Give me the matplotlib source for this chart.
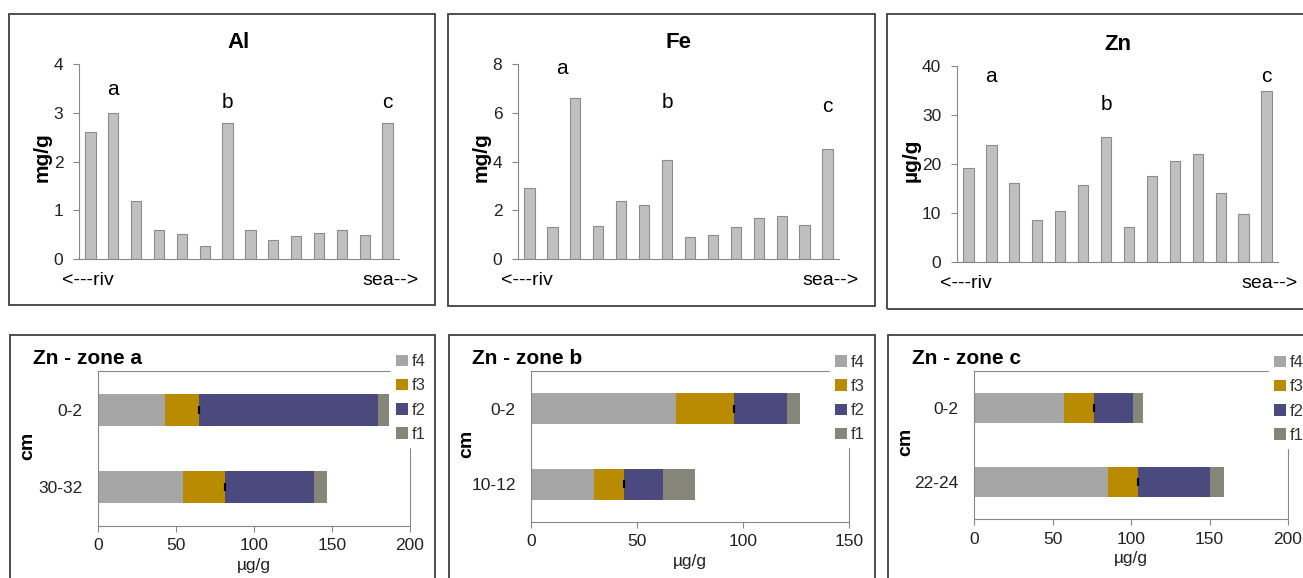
# Sediment metals along the river-sea transect and Zn fractions per zone

import matplotlib.pyplot as plt
from matplotlib.patches import Rectangle

plt.rcParams['font.family'] = ['Liberation Sans', 'DejaVu Sans']

W, H = 1303, 578

# stations from river to sea
stations = list(range(14))
al = [2.6, 3.0, 1.2, 0.6, 0.52, 0.26, 2.8, 0.6, 0.4, 0.47, 0.54, 0.6, 0.5, 2.8]
fe = [2.9, 1.3, 6.6, 1.37, 2.4, 2.2, 4.07, 0.9, 0.98, 1.31, 1.69, 1.78, 1.41, 4.5]
zn = [19.2, 23.8, 16.1, 8.6, 10.5, 15.8, 25.6, 7.2, 17.6, 20.6, 22.0, 14.0, 9.8, 34.9]

# zone letters: (x position, y position) per panel
al_marks = [('a', 1, 3.47), ('b', 6, 3.2), ('c', 13, 3.2)]
fe_marks = [('a', 1.4, 7.8), ('b', 6, 6.4), ('c', 13, 6.25)]
zn_marks = [('a', 1, 37.9), ('b', 6, 32.2), ('c', 13, 37.9)]

# Zn fractions (µg/g), first row = surface layer
fractions = ['f4', 'f3', 'f2', 'f1']
frac_colors = ['#A6A6A6', '#B98B00', '#4B4A7E', '#858578']
zone_a_depths = ['0-2', '30-32']
zone_a = {'f4': [42.7, 54.6], 'f3': [22.2, 27.1], 'f2': [114.8, 57.0], 'f1': [7.1, 7.9]}
zone_b_depths = ['0-2', '10-12']
zone_b = {'f4': [68.6, 29.8], 'f3': [27.0, 14.0], 'f2': [25.1, 18.3], 'f1': [6.1, 15.3]}
zone_c_depths = ['0-2', '22-24']
zone_c = {'f4': [57.4, 85.2], 'f3': [19.1, 19.5], 'f2': [24.8, 45.7], 'f1': [6.6, 8.9]}


def px_box(x0, y0, x1, y1):
    return [x0 / W, 1 - y1 / H, (x1 - x0) / W, (y1 - y0) / H]


fig = plt.figure(figsize=(W / 100, H / 100), dpi=100)

# panel frames
for x0, y0, x1, y1 in [(9, 14, 435, 305), (448, 14, 875, 306), (887, 14, 1320, 309),
                       (10, 335, 435, 600), (449, 335, 875, 600), (888, 335, 1320, 600)]:
    fig.patches.append(Rectangle((x0 / W, 1 - y1 / H), (x1 - x0) / W, (y1 - y0) / H,
                                 transform=fig.transFigure, fill=False,
                                 edgecolor='#404040', linewidth=1.3))


def station_panel(box, values, title, unit, ymax, step, marks, ylab_x):
    ax = fig.add_axes(px_box(*box))
    ax.bar(stations, values, width=0.45, color='#C0C0C0', edgecolor='#8C8C8C', linewidth=0.8)
    ax.set_xlim(-0.5, 13.5)
    ax.set_ylim(0, ymax)
    ax.set_yticks(range(0, ymax + 1, step))
    ax.set_xticks([])
    for s in ['top', 'right']:
        ax.spines[s].set_visible(False)
    for s in ['left', 'bottom']:
        ax.spines[s].set_color('#888888')
    ax.tick_params(axis='y', length=4.3, color='#888888', pad=7, labelsize=12.5, labelcolor='#222222')
    ax.text(0.5, 1.11, title, transform=ax.transAxes, ha='center', va='center',
            fontsize=16, fontweight='bold')
    ax.text(ylab_x, 0.52, unit, transform=ax.transAxes, rotation=90, ha='center', va='center',
            fontsize=15, fontweight='bold')
    for letter, x, y in marks:
        ax.text(x, y, letter, ha='center', va='center', fontsize=15)
    ax.text(-0.053, -0.11, '<---riv', transform=ax.transAxes, ha='left', va='center', fontsize=14)
    ax.text(1.06, -0.11, 'sea-->', transform=ax.transAxes, ha='right', va='center', fontsize=14)


station_panel((79, 64, 399, 259), al, 'Al', 'mg/g', 4, 1, al_marks, -0.116)
station_panel((518, 64, 839, 259), fe, 'Fe', 'mg/g', 8, 2, fe_marks, -0.114)
station_panel((957, 66, 1278, 262), zn, 'Zn', 'µg/g', 40, 10, zn_marks, -0.142)


def zone_panel(box, depths, data, title, title_xy, xmax, ylab_x):
    ax = fig.add_axes(px_box(*box))
    ypos = list(range(len(depths)))
    left = [0.0] * len(depths)
    for name, col in zip(fractions, frac_colors):
        ax.barh(ypos, data[name], left=left, height=0.41, color=col, label=name)
        if name == 'f3':
            ends = [l + v for l, v in zip(left, data[name])]
            ax.errorbar(ends, ypos, xerr=0, fmt='none', ecolor='black',
                        capsize=3, capthick=1.5, elinewidth=0)
        left = [l + v for l, v in zip(left, data[name])]
    ax.set_yticks(ypos)
    ax.set_yticklabels(depths)
    ax.set_ylim(len(depths) - 0.5, -0.5)
    ax.set_xlim(0, xmax)
    ax.set_xticks(range(0, xmax + 1, 50))
    for s in ax.spines.values():
        s.set_color('#888888')
    ax.tick_params(axis='y', length=0, pad=11, labelsize=12.5, labelcolor='#222222')
    ax.tick_params(axis='x', length=4, color='#888888', pad=5, labelsize=12.5, labelcolor='#222222')
    ax.set_xlabel('µg/g', fontsize=12.5, labelpad=3, color='#222222')
    ax.text(ylab_x, 0.52, 'cm', transform=ax.transAxes, rotation=90, ha='center', va='center',
            fontsize=14, fontweight='bold')
    fig.text(title_xy[0] / W, 1 - title_xy[1] / H, title, ha='left', va='center',
             fontsize=15, fontweight='bold')
    leg = ax.legend(loc='upper left', bbox_to_anchor=(0.94, 1.14), borderaxespad=0,
                    frameon=True, fontsize=12, handlelength=0.7, handleheight=0.7,
                    handletextpad=0.25, labelspacing=0.55, borderpad=0.3)
    leg.get_frame().set_edgecolor('white')
    leg.get_frame().set_facecolor('white')
    leg.get_frame().set_alpha(1)
    for t in leg.get_texts():
        t.set_color('#333333')


zone_panel((98, 371, 410, 526), zone_a_depths, zone_a, 'Zn - zone a', (33, 359), 200, -0.224)
zone_panel((531, 371, 849, 522), zone_b_depths, zone_b, 'Zn - zone b', (472, 359), 150, -0.201)
zone_panel((974, 371, 1288, 519), zone_c_depths, zone_c, 'Zn - zone c', (912, 359), 200, -0.217)

fig.savefig('out.png', dpi=100)
